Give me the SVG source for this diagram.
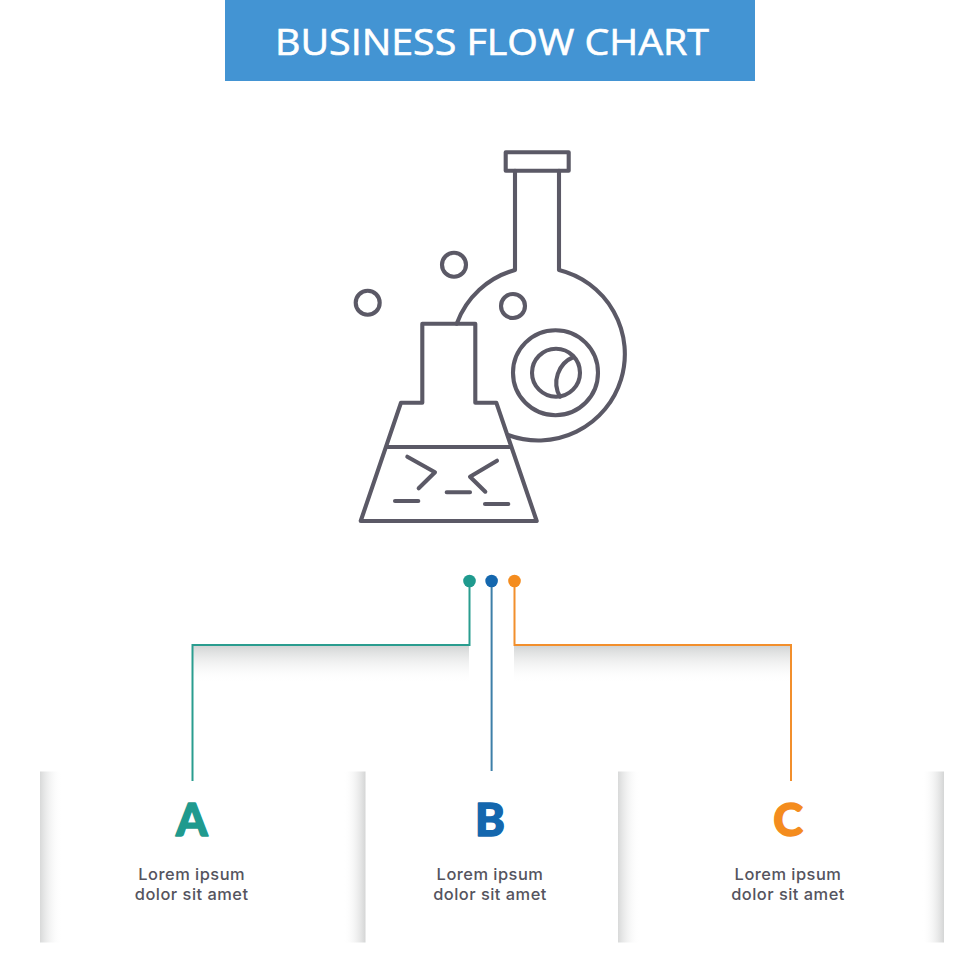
<svg xmlns="http://www.w3.org/2000/svg" width="980" height="980" viewBox="0 0 980 980">
<style>
.ic{fill:none;stroke:#5b5966;stroke-width:4.100;stroke-linecap:round;stroke-linejoin:round}
.body{font-family:"Inter","Lato","Liberation Sans",sans-serif;font-size:16.400px;font-weight:500;letter-spacing:0.500px;fill:#55545e;text-anchor:middle}
.let{font-family:"Lato","Liberation Sans",sans-serif;font-size:45px;font-weight:900;text-anchor:middle;stroke-width:1.500;stroke-linejoin:round}
.conn{fill:none;stroke-width:2}
</style>
<defs>
<linearGradient id="sd" x1="0" y1="0" x2="0" y2="1"><stop offset="0" stop-color="#d3d5d5"/><stop offset="1" stop-color="#fff" stop-opacity="0"/></linearGradient>
<linearGradient id="sl" x1="0" y1="0" x2="1" y2="0"><stop offset="0" stop-color="#d8d9d9"/><stop offset="1" stop-color="#fff" stop-opacity="0"/></linearGradient>
<linearGradient id="sr" x1="1" y1="0" x2="0" y2="0"><stop offset="0" stop-color="#d4d5d5"/><stop offset="1" stop-color="#fff" stop-opacity="0"/></linearGradient>
</defs>
<rect width="980" height="980" fill="#fff"/>
<g id="header">
<rect x="225" y="0" width="530" height="81" fill="#4394d3"/>
<text x="492" y="55" font-family="'Open Sans','Liberation Sans',sans-serif" font-size="37" font-weight="400" fill="#fff" stroke="#fff" stroke-width="0.600" text-anchor="middle" textLength="434" lengthAdjust="spacingAndGlyphs">BUSINESS FLOW CHART</text>
</g>
<g id="icon" class="ic">
<rect x="505.700" y="152.300" width="63" height="18.400"/>
<path d="M515 170.700V270A86.500 86.500 0 0 0 456.700 323.700M559 170.700V270A86.500 86.500 0 1 1 508 435"/>
<circle cx="555.500" cy="372.700" r="42.500"/>
<circle cx="556" cy="372.700" r="24"/>
<path d="M573.500 357A28 28 0 0 0 560 396.700"/>
<circle cx="454" cy="264.700" r="12"/>
<circle cx="367.700" cy="302.700" r="12"/>
<circle cx="513" cy="306" r="12"/>
<path d="M422.300 402.700V323.700H475.300V402.700H496.300L536.700 521H360.700L401 402.700Z"/>
<path d="M386.700 447H510.700"/>
<path d="M407.300 456.700L435 472.300L418.700 488.300M497 460.700L470 476.700L485.300 491.700"/>
<path d="M395 501H418.300M446.700 492.300H470M485 504H508.300"/>
</g>
<g id="shadows">
<rect x="193" y="646" width="276" height="38" fill="url(#sd)"/>
<rect x="514" y="646" width="277" height="38" fill="url(#sd)"/>
</g>
<g id="connectors">
<path class="conn" stroke="#2a9d8f" d="M469.500 581V645H192.500V781"/>
<path class="conn" stroke="#3d7fa8" d="M491.600 581V771"/>
<path class="conn" stroke="#f28f2c" d="M514.500 581V645H791V781"/>
</g>
<g id="dots">
<circle cx="469.500" cy="581" r="6.300" fill="#1f9a8e"/>
<circle cx="491.600" cy="581" r="6.300" fill="#1467ae"/>
<circle cx="514.500" cy="581" r="6.300" fill="#f48c1e"/>
</g>
<g id="panel-a">
<rect x="40" y="771.500" width="22" height="171" fill="url(#sl)"/>
<rect x="343.500" y="771.500" width="22" height="171" fill="url(#sr)"/>
<text class="let" x="191.700" y="836.300" fill="#1f9a8e" stroke="#1f9a8e">A</text>
<text class="body" x="191.700" y="880">Lorem ipsum</text>
<text class="body" x="191.700" y="900">dolor sit amet</text>
</g>
<g id="panel-b">
<text class="let" x="490" y="836.300" fill="#1467ae" stroke="#1467ae">B</text>
<text class="body" x="490" y="880">Lorem ipsum</text>
<text class="body" x="490" y="900">dolor sit amet</text>
</g>
<g id="panel-c">
<rect x="618" y="771.500" width="22" height="171" fill="url(#sl)"/>
<rect x="922" y="771.500" width="22" height="171" fill="url(#sr)"/>
<text class="let" x="788" y="836.300" fill="#f48c1e" stroke="#f48c1e">C</text>
<text class="body" x="788" y="880">Lorem ipsum</text>
<text class="body" x="788" y="900">dolor sit amet</text>
</g>
</svg>
